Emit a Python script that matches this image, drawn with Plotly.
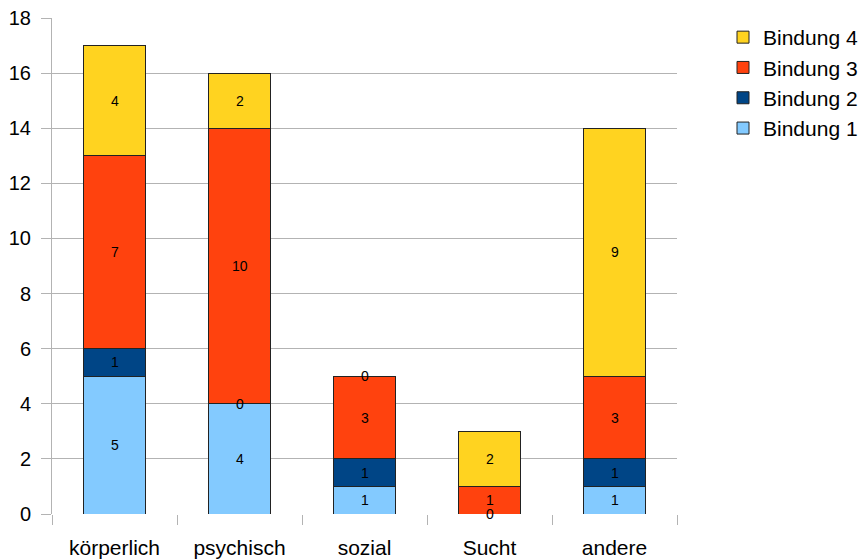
import plotly.graph_objects as go

categories = ["körperlich", "psychisch", "sozial", "Sucht", "andere"]
series_names = ["Bindung 1", "Bindung 2", "Bindung 3", "Bindung 4"]
bindung1 = [5, 4, 1, 0, 1]
bindung2 = [1, 0, 1, 0, 1]
bindung3 = [7, 10, 3, 1, 3]
bindung4 = [4, 2, 0, 2, 9]
colors = ["#83caff", "#004586", "#ff420e", "#ffd320"]

series = [bindung1, bindung2, bindung3, bindung4]
font = "Liberation Sans, Arial, sans-serif"

fig = go.Figure()
for name, vals, col in zip(series_names, series, colors):
    fig.add_trace(go.Bar(
        x=categories, y=vals, name=name,
        marker=dict(color=col, line=dict(color="#222222", width=1)),
        width=0.5,
    ))

annotations = []
seen = set()
base = [0] * len(categories)
for vals in series:
    for i, v in enumerate(vals):
        pos = (i, base[i] + v / 2)
        if pos not in seen:
            seen.add(pos)
            annotations.append(dict(
                x=categories[i], y=pos[1], xref="x", yref="y",
                text=str(v), showarrow=False,
                font=dict(family=font, size=14, color="#000000"),
            ))
        base[i] += v

fig.update_layout(
    barmode="stack",
    width=859, height=560,
    margin=dict(l=52, r=182, t=18, b=46, autoexpand=False),
    plot_bgcolor="white", paper_bgcolor="white",
    font=dict(family=font, size=20, color="#000000"),
    showlegend=True,
    legend=dict(
        traceorder="reversed", xref="container", yref="container",
        x=723 / 859, y=1 - 17 / 560, xanchor="left", yanchor="top",
        font=dict(family=font, size=21), bgcolor="rgba(0,0,0,0)",
    ),
    annotations=annotations,
    bargap=0.5,
)
fig.update_xaxes(
    type="category", tickson="boundaries", ticks="outside", ticklen=10,
    tickcolor="#b3b3b3", showgrid=False, showline=False,
    tickfont=dict(family=font, size=21), ticklabelstandoff=19,
)
fig.update_yaxes(
    range=[0, 18], dtick=2, showgrid=True, gridcolor="#b3b3b3", gridwidth=1,
    ticks="outside", ticklen=10, tickcolor="#b3b3b3",
    showline=True, linecolor="#b3b3b3", zeroline=False,
    tickfont=dict(family=font, size=20), ticklabelstandoff=6,
)

fig.write_html("out.html")
